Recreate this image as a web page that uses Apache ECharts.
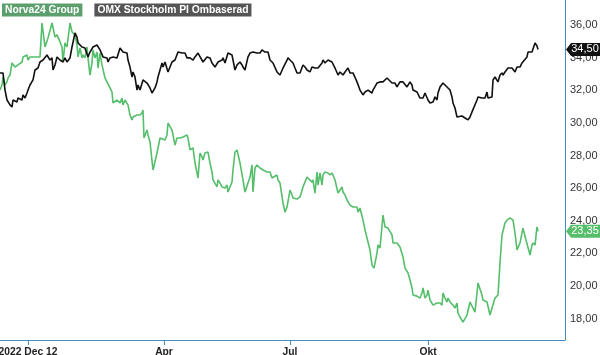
<!DOCTYPE html>
<html>
<head>
<meta charset="utf-8">
<script src="https://cdn.jsdelivr.net/npm/echarts@6/dist/echarts.min.js"></script>
<style>
  html, body { margin: 0; padding: 0; background: #fff; }
  #chart { width: 600px; height: 355px; }
</style>
</head>
<body>
<div id="chart"></div>
<script>
// t = handelsdag-index (ca 2 px per dag), v = kurs
const norva = [[0,32.01],[1,32.32],[1.5,32.81],[2.5,32.32],[3.5,32.51],[4,32.75],[5,32.93],[6,33.67],[6.5,33.73],[7.5,33.42],[8.5,33.36],[9,33.55],[10,33.55],[11,33.73],[11.5,34.04],[12.5,33.98],[13.5,34.16],[14,33.85],[15,34.04],[18.5,34.04],[19,34.16],[20,34.04],[21,36.12],[21.5,36.12],[22.5,34.65],[23.5,34.59],[24,35.20],[25,35.26],[26,36.12],[26.5,36.12],[27.5,35.26],[28.5,35.39],[30,34.96],[31,34.65],[31.5,33.73],[32.5,34.90],[33.5,34.65],[34,34.77],[35,36.12],[36,35.57],[36.5,35.69],[37.5,35.39],[38.5,34.77],[39,34.04],[40,34.59],[41,33.98],[41.5,34.16],[42.5,33.98],[43.5,34.65],[44,33.98],[45,32.93],[46,33.67],[46.5,34.47],[47.5,33.98],[48.5,34.34],[49,33.36],[50,34.28],[51,33.55],[51.5,33.55],[52.5,32.75],[53.5,32.51],[54,32.63],[55,32.14],[56,31.89],[56.5,31.22],[57.5,31.10],[58.5,31.40],[59,31.28],[60,31.22],[61,31.52],[61.5,31.10],[62.5,31.40],[63.5,31.52],[64,31.10],[65,30.48],[66,30.18],[66.5,30.36],[67.5,30.36],[68.5,30.48],[69,30.36],[70,30.48],[71,30.61],[71.5,30.79],[72,29.07],[73.5,29.56],[74,29.26],[75,28.83],[76,28.77],[76.5,27.11],[78.5,28.15],[80,29.07],[81,29.07],[82.5,28.95],[83.5,29.26],[84,29.99],[85,29.99],[86,29.56],[87.5,28.64],[88.5,29.07],[90,29.07],[91.5,29.13],[92.5,29.07],[93.5,29.26],[94,29.07],[95,28.34],[96,28.34],[96.5,28.46],[97.5,27.54],[98.5,26.93],[99,26.62],[100,28.15],[101,27.91],[101.5,27.72],[102.5,28.15],[103.5,28.03],[104,28.21],[105,27.54],[106,26.99],[106.5,26.50],[107.5,26.50],[108.5,26.07],[109,26.50],[110,26.31],[111,26.07],[112.5,26.01],[113.5,26.19],[114,25.76],[116,26.37],[116.5,27.11],[117.5,28.21],[118.5,28.34],[120,27.54],[121.5,26.50],[122.5,25.76],[123.5,25.76],[125,26.68],[126,27.42],[126.5,25.76],[127.5,27.23],[128.5,27.42],[130,27.23],[131.5,27.11],[133.5,26.99],[134,26.93],[135,26.99],[136,26.62],[136.5,26.68],[138.5,26.80],[139,26.50],[140,26.31],[141.5,25.09],[142.5,24.53],[143.5,24.84],[145,25.88],[146,25.58],[146.5,25.39],[148.5,25.33],[150,25.46],[151.5,26.07],[153.5,26.68],[154,26.62],[156,26.37],[156.5,26.50],[157.5,25.70],[158.5,26.99],[159,26.19],[160,26.93],[161,26.19],[161.5,26.80],[162.5,26.99],[163.5,26.99],[164,26.93],[165,26.80],[166,26.93],[167.5,26.50],[169,25.70],[170,25.70],[171,26.07],[171.5,25.76],[172.5,25.58],[173.5,25.27],[175,24.96],[176.5,24.84],[178.5,24.84],[179,24.53],[180,24.78],[181,24.84],[181.5,24.04],[182.5,23.43],[183.5,22.94],[185,22.21],[186,21.28],[187,21.10],[188.5,22.02],[189,22.51],[190,22.33],[191.5,24.35],[192.5,23.62],[194,23.55],[196,23.13],[196.5,22.64],[198.5,22.64],[200,22.39],[201.5,21.78],[202.5,21.10],[204,20.80],[205,20.37],[206,19.88],[206.5,19.45],[208.5,19.38],[210,19.26],[211,19.57],[211.5,19.88],[212.5,19.26],[213.5,19.45],[214,19.75],[215,19.14],[216.5,18.83],[217.5,18.83],[218.5,18.96],[220,18.96],[221,18.83],[221.5,19.57],[222.5,19.26],[223.5,19.02],[224,19.26],[225,19.02],[226.5,18.83],[227.5,18.65],[228.5,18.96],[229,18.34],[230,18.10],[231.5,17.79],[233.5,18.22],[235,19.02],[236,18.96],[237.5,18.40],[239,20.18],[240,20.18],[241,19.45],[241.5,19.14],[243.5,19.02],[245,18.22],[246,18.65],[246.5,18.65],[247.5,19.26],[249,19.45],[250,21.41],[251,23.13],[252.5,23.86],[253.5,24.04],[254,23.92],[255,24.17],[256.5,24.04],[257.5,23.25],[258.5,22.21],[260,22.64],[261.5,23.55],[263,22.82],[264,22.82],[265,21.90],[266,22.51],[266.5,22.64],[267.5,22.51],[268.5,23.62],[269,23.35]]

const omx = [[0,33.06],[1.5,33.06],[2.5,32.01],[3.5,31.40],[5,31.10],[6,30.97],[6.5,31.40],[8.5,31.28],[9,31.52],[11,31.40],[11.5,31.71],[12.5,31.52],[13.5,31.83],[14,32.01],[15,32.32],[16.5,32.63],[17.5,33.24],[19,33.36],[20,33.73],[21.5,33.85],[23.5,34.16],[25,33.85],[26,33.98],[26.5,33.24],[27.5,33.55],[28.5,34.04],[30,33.85],[31.5,33.73],[32.5,33.98],[33.5,33.73],[35,33.98],[36,34.65],[37.5,35.51],[38.5,35.26],[39,34.90],[41,34.65],[42.5,34.59],[44,34.04],[45,34.34],[46.5,34.65],[48.5,34.77],[50,34.47],[51.5,34.04],[53.5,33.98],[54,33.73],[55,33.98],[56.5,34.04],[58.5,33.98],[60,34.59],[61.5,34.34],[63.5,34.28],[64,33.85],[65,33.42],[66,32.81],[66.5,33.12],[67.5,32.81],[68.5,32.01],[69,32.32],[70,32.01],[71.5,32.63],[73.5,32.44],[75,32.14],[76,31.83],[77.5,32.14],[78.5,32.51],[79,32.81],[81,33.67],[81.5,33.42],[82.5,33.73],[84,33.12],[86,33.73],[87.5,33.85],[89,34.34],[91,34.28],[92.5,34.28],[93.5,33.98],[95,33.98],[96.5,33.85],[97.5,34.04],[99,34.28],[100,34.34],[101.5,33.73],[103.5,34.04],[105,33.98],[106,33.67],[106.5,33.55],[107.5,33.42],[109,33.73],[111,33.85],[111.5,33.98],[112.5,33.67],[114,34.28],[116,34.16],[117.5,33.24],[118.5,33.55],[120,33.73],[121,33.55],[121.5,33.42],[122.5,33.24],[124,34.04],[125,34.28],[126.5,34.34],[128.5,34.28],[130,34.28],[131,34.47],[132.5,34.34],[134,34.34],[135,33.85],[136.5,33.67],[138.5,33.12],[140,32.93],[141.5,33.36],[143.5,33.85],[144,33.98],[145,33.85],[146,33.92],[146.5,33.67],[147.5,33.36],[148.5,33.06],[149,33.12],[150,33.06],[151.5,33.55],[152.5,33.42],[153.5,33.24],[155,33.12],[156,33.42],[157.5,33.36],[159,33.36],[161,33.67],[161.5,33.85],[162.5,33.67],[164,33.85],[166,33.73],[167.5,33.36],[169,32.93],[170,33.12],[171.5,32.93],[172.5,33.12],[174,33.36],[175,33.06],[176.5,33.06],[178.5,32.51],[179,32.44],[180,32.01],[181,31.89],[181.5,31.71],[182.5,31.89],[184,32.01],[185,31.89],[186,31.83],[186.5,32.01],[188.5,32.44],[190,32.51],[191.5,32.51],[193.5,32.75],[194,32.75],[196,32.44],[196.5,32.32],[197.5,32.44],[198.5,32.20],[200,32.51],[201.5,32.51],[203.5,32.20],[204,32.32],[205,32.51],[206,32.32],[206.5,32.01],[208.5,31.89],[210,31.52],[211.5,31.52],[212.5,31.83],[213.5,31.71],[214,31.40],[215,31.22],[216,31.10],[216.5,31.28],[217.5,31.59],[218.5,31.40],[219,31.83],[220,32.20],[221.5,32.44],[222.5,32.51],[223.5,32.20],[225,32.01],[226,31.59],[226.5,31.22],[227.5,30.91],[228.5,30.36],[229,30.30],[231,30.42],[232.5,30.30],[234,30.18],[235,30.36],[236,30.67],[237,30.61],[238.5,31.40],[239,31.59],[241,31.52],[242.5,31.52],[243.5,31.89],[244,31.52],[246,31.59],[246.5,32.63],[247.5,32.81],[249,32.51],[250,32.93],[251,33.06],[251.5,32.93],[252.5,33.12],[254,33.36],[256,33.36],[257.5,33.12],[258.5,33.42],[260,33.42],[261,33.67],[261.5,33.67],[263.5,34.04],[264,34.34],[266,34.34],[267.5,34.90],[268.5,34.71],[269,34.50]]

// x-axelns etiketter och deras läge (handelsdag)
const xTickPos = [14, 82, 145, 214]
const xTickLabels = ["2022 Dec 12", "Apr", "Jul", "Okt"]
const yTicks = [18, 20, 22, 24, 26, 28, 30, 32, 34, 36]

const GREEN = "#55be6a"
const AXIS = "#4a8bbd"
const X_MAX = 282.5

function fmt(v) {
  return v.toFixed(2).replace(".", ",")
}

// prislapp vid y-axeln
function tag(last, color) {
  return {
    symbol: "path://M0,6 L6,0 L40,0 L40,12 L6,12 Z",
    symbolSize: [34, 13],
    symbolKeepAspect: false,
    symbolOffset: [18, 0],
    itemStyle: { color: color },
    label: {
      show: true,
      position: "inside",
      offset: [2, 0],
      color: "#fff",
      fontSize: 11,
      fontFamily: "Liberation Sans",
      formatter: () => fmt(last),
    },
    data: [{ coord: [X_MAX, last] }],
  }
}

let myChart = echarts.init(document.getElementById("chart"))

myChart.setOption({
  animation: false,
  grid: { left: 0, right: 35, top: 0, bottom: 15, outerBoundsMode: "none", containLabel: false },
  legend: {
    left: -8,
    top: -2,
    icon: "none",
    itemWidth: 0,
    itemGap: 7,
    selectedMode: false,
    textStyle: {
      color: "#fff",
      fontWeight: "bold",
      fontSize: 10.3,
      fontFamily: "Liberation Sans",
      padding: [2, 3, 1, 3],
      textShadowColor: "rgba(0,0,0,0.6)",
      textShadowOffsetX: 1,
      textShadowOffsetY: 1,
    },
    data: [
      { name: "Norva24 Group", textStyle: { backgroundColor: "#5a9f6c" } },
      { name: "OMX Stockholm PI Ombaserad", textStyle: { backgroundColor: "#555555" } },
    ],
  },
  xAxis: {
    type: "value",
    min: 0,
    max: X_MAX,
    axisLine: { show: true, onZero: false, lineStyle: { color: AXIS, width: 1 } },
    axisTick: { show: true, length: 5, lineStyle: { color: AXIS }, customValues: xTickPos },
    splitLine: { show: false },
    axisLabel: {
      customValues: xTickPos,
      margin: 7,
      color: "#222",
      fontWeight: "bold",
      fontSize: 10.3,
      fontFamily: "Liberation Sans",
      formatter: (v) => xTickLabels[xTickPos.indexOf(v)] || "",
    },
  },
  yAxis: {
    type: "value",
    position: "right",
    min: 16.69,
    max: 37.53,
    axisLine: { show: true, onZero: false, lineStyle: { color: AXIS, width: 1 } },
    axisTick: { show: false },
    splitLine: { show: false },
    axisLabel: {
      customValues: yTicks,
      margin: 5,
      color: "#333",
      fontSize: 11,
      fontFamily: "Liberation Sans",
      formatter: (v) => fmt(v),
    },
  },
  series: [
    {
      name: "Norva24 Group",
      type: "line",
      data: norva,
      showSymbol: false,
      clip: false,
      color: GREEN,
      lineStyle: { width: 1.6, color: GREEN },
      markPoint: tag(norva[norva.length - 1][1], GREEN),
    },
    {
      name: "OMX Stockholm PI Ombaserad",
      type: "line",
      data: omx,
      showSymbol: false,
      clip: false,
      color: "#111",
      lineStyle: { width: 1.6, color: "#111" },
      markPoint: tag(omx[omx.length - 1][1], "#111"),
    },
  ],
})
</script>
</body>
</html>
